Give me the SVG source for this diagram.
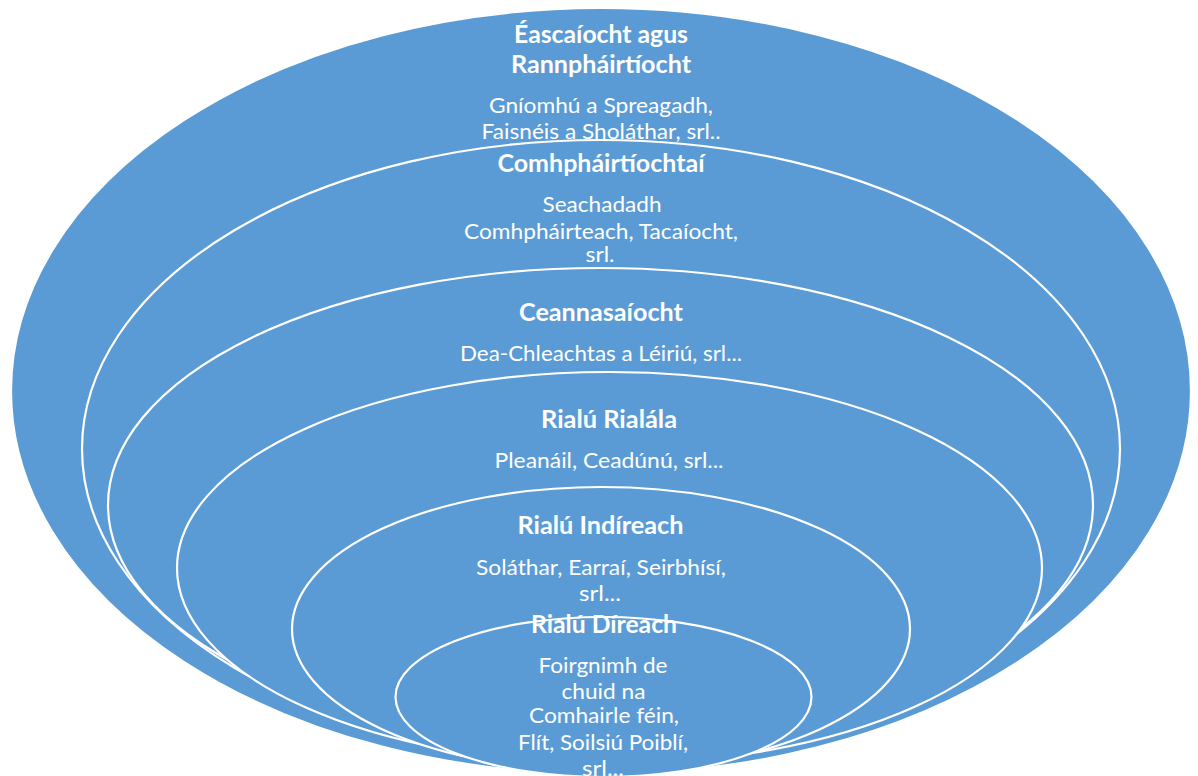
<svg xmlns="http://www.w3.org/2000/svg" width="1198" height="776" viewBox="0 0 1198 776">
<style>
.shape{fill:#5B9BD5;stroke:#FFFFFF;stroke-width:2.2}
.t{font-family:Lato,"Liberation Sans",sans-serif;font-weight:700;font-size:24px;fill:#FFFFFF;text-anchor:middle}
.b{font-family:Lato,"Liberation Sans",sans-serif;font-weight:400;font-size:22px;fill:#FFFFFF;text-anchor:middle}
</style>
<rect x="0" y="0" width="1198" height="776" fill="#FFFFFF"/>
<g id="node-eascaiocht">
<ellipse class="shape" cx="601" cy="391" rx="590" ry="383"/>
<text class="t" x="601" y="43" textLength="174" lengthAdjust="spacingAndGlyphs">Éascaíocht agus</text>
<text class="t" x="601" y="73" textLength="180" lengthAdjust="spacingAndGlyphs">Rannpháirtíocht</text>
<text class="b" x="601" y="113" textLength="224" lengthAdjust="spacingAndGlyphs">Gníomhú a Spreagadh,</text>
<text class="b" x="601" y="139" textLength="239" lengthAdjust="spacingAndGlyphs">Faisnéis a Sholáthar, srl..</text>
</g>
<g id="node-comhphairtiochtai">
<ellipse class="shape" cx="601" cy="449" rx="519" ry="309"/>
<text class="t" x="601" y="172" textLength="207" lengthAdjust="spacingAndGlyphs">Comhpháirtíochtaí</text>
<text class="b" x="602" y="212" textLength="119" lengthAdjust="spacingAndGlyphs">Seachadadh</text>
<text class="b" x="601" y="238.5" textLength="274" lengthAdjust="spacingAndGlyphs">Comhpháirteach, Tacaíocht,</text>
<text class="b" x="600" y="262" textLength="29" lengthAdjust="spacingAndGlyphs">srl.</text>
</g>
<g id="node-ceannasaiocht">
<ellipse class="shape" cx="600.5" cy="505" rx="492.5" ry="237"/>
<text class="t" x="601" y="321" textLength="164" lengthAdjust="spacingAndGlyphs">Ceannasaíocht</text>
<text class="b" x="601" y="361" textLength="282" lengthAdjust="spacingAndGlyphs">Dea-Chleachtas a Léiriú, srl...</text>
</g>
<g id="node-rialu-rialala">
<ellipse class="shape" cx="609.5" cy="568" rx="432.5" ry="196"/>
<text class="t" x="609" y="428" textLength="136" lengthAdjust="spacingAndGlyphs">Rialú Rialála</text>
<text class="b" x="609" y="468" textLength="229" lengthAdjust="spacingAndGlyphs">Pleanáil, Ceadúnú, srl...</text>
</g>
<g id="node-rialu-indireach">
<ellipse class="shape" cx="601" cy="629" rx="309" ry="142"/>
<text class="t" x="600.5" y="534" textLength="166" lengthAdjust="spacingAndGlyphs">Rialú Indíreach</text>
<text class="b" x="601" y="575" textLength="250" lengthAdjust="spacingAndGlyphs">Soláthar, Earraí, Seirbhísí,</text>
<text class="b" x="600" y="601" textLength="42" lengthAdjust="spacingAndGlyphs">srl...</text>
</g>
<g id="node-rialu-direach">
<ellipse class="shape" cx="603.5" cy="697" rx="208" ry="80"/>
<text class="t" x="604" y="633" textLength="146" lengthAdjust="spacingAndGlyphs">Rialú Díreach</text>
<text class="b" x="603" y="673" textLength="129" lengthAdjust="spacingAndGlyphs">Foirgnimh de</text>
<text class="b" x="603.5" y="699" textLength="84" lengthAdjust="spacingAndGlyphs">chuid na</text>
<text class="b" x="604" y="723" textLength="150" lengthAdjust="spacingAndGlyphs">Comhairle féin,</text>
<text class="b" x="603" y="750" textLength="170" lengthAdjust="spacingAndGlyphs">Flít, Soilsiú Poiblí,</text>
<text class="b" x="603" y="776" textLength="42" lengthAdjust="spacingAndGlyphs">srl...</text>
</g>
<g id="connectors"></g>
</svg>
